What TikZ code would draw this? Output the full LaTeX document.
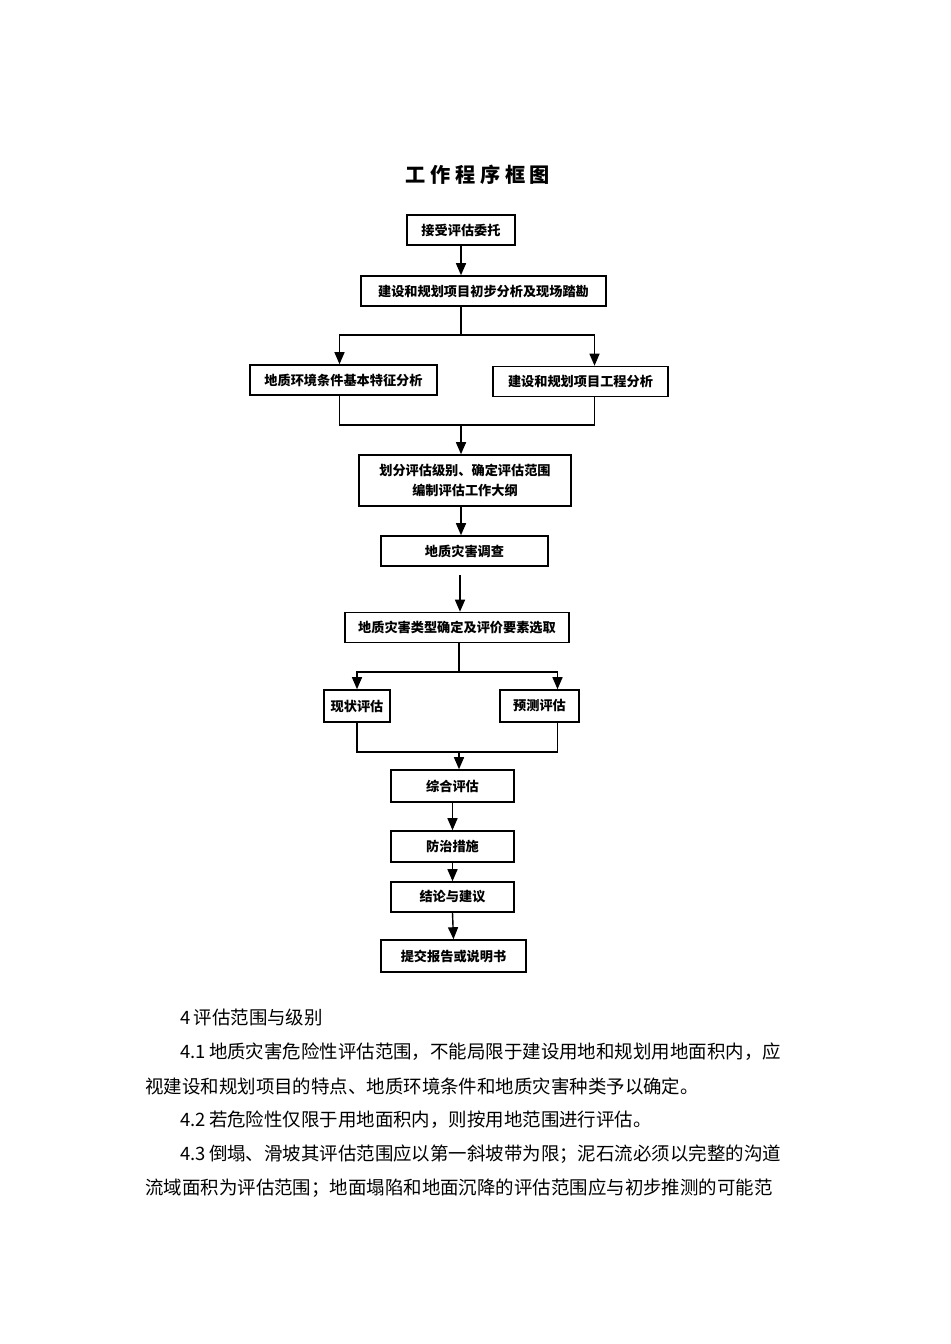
\documentclass[tikz,border=0pt]{standalone}
\usepackage{fontspec}
\setmainfont{Liberation Serif}
\newfontfamily\cjk{Noto Sans CJK SC}
\usetikzlibrary{positioning,calc,arrows.meta}

\begin{document}
\begin{tikzpicture}[
    x=0.02cm, y=-0.02cm,
    box/.style={draw, line width=0.9pt, align=center, inner sep=2pt, minimum height=0.6cm,
      font=\cjk\fontsize{7.5}{11}\selectfont\bfseries},
    arrow/.style={-{Triangle[length=2.4mm,width=2mm]}, line width=0.8pt},
    line/.style={line width=0.8pt},
    para/.style={anchor=west, inner sep=0pt, font=\cjk\fontsize{10.5}{12}\selectfont}
]
\useasboundingbox (0,0) rectangle (950,1344);
\node[font=\cjk\fontsize{11.5}{14}\selectfont\bfseries] (title) at (478,175) {工\ 作\ 程\ 序\ 框\ 图};

\node[box, minimum width=2.16cm] (accept) at (461,230) {接受评估委托};
\node[box, minimum width=4.9cm] (survey) at (483.5,291) {建设和规划项目初步分析及现场踏勘};
\node[box, minimum width=3.74cm] (geoenv) at (343.5,380) {地质环境条件基本特征分析};
\node[box, minimum width=3.5cm] (project) at (580.5,381.5) {建设和规划项目工程分析};
\node[box, minimum width=4.24cm, minimum height=1.02cm] (grade) at (465,480.5) {划分评估级别、确定评估范围\\编制评估工作大纲};
\node[box, minimum width=3.34cm] (hazard) at (464.5,551) {地质灾害调查};
\node[box, minimum width=4.48cm] (types) at (457,627.5) {地质灾害类型确定及评价要素选取};
\node[box, minimum width=1.32cm, minimum height=0.64cm] (current) at (357,706) {现状评估};
\node[box, minimum width=1.58cm, minimum height=0.64cm] (predict) at (539.5,706) {预测评估};
\node[box, minimum width=2.46cm, minimum height=0.64cm] (overall) at (452.5,786) {综合评估};
\node[box, minimum width=2.46cm, minimum height=0.62cm] (measure) at (452.5,846.5) {防治措施};
\node[box, minimum width=2.46cm] (conclude) at (452.5,897) {结论与建议};
\node[box, minimum width=2.9cm, minimum height=0.64cm] (report) at (453.5,956) {提交报告或说明书};

% split and merge points
\coordinate (split1) at (461,335);
\coordinate (merge1) at (461,425);
\coordinate (gap) at (460,575);
\coordinate (split2) at (459,672);
\coordinate (merge2) at (459,752);

\draw[arrow] (accept.south) -- (accept.south |- survey.north);
\draw[line] (survey.south -| split1) -- (split1);
\draw[arrow] (split1) -| ($(geoenv.north)+(-4,0)$);
\draw[arrow] (split1) -| ($(project.north)+(14,0)$);
\draw[line] ($(geoenv.south)+(-4,0)$) |- (merge1) -| ($(project.south)+(14,0)$);
\draw[arrow] (merge1) -- (merge1 |- grade.north);
\draw[arrow] (grade.south -| merge1) -- (merge1 |- hazard.north);
\draw[arrow] (gap) -- (gap |- types.north);
\draw[line] (types.south -| split2) -- (split2);
\draw[arrow] (split2) -| (current.north);
\draw[arrow] (split2) -| ($(predict.north)+(18,0)$);
\draw[line] (current.south) |- (merge2) -| ($(predict.south)+(18,0)$);
\draw[arrow] (merge2) -- (merge2 |- overall.north);
\draw[arrow] (overall.south) -- (measure.north);
\draw[arrow] (measure.south) -- (conclude.north);
\draw[arrow] (conclude.south) -- (report.north);

% text below the chart
\node[para] (sec) at (180,1018) {4\,评估范围与级别};
\node[para] (p1a) at (180,1052) {4.1\,地质灾害危险性评估范围，不能局限于建设用地和规划用地面积内，应};
\node[para] (p1b) at (145,1086) {视建设和规划项目的特点、地质环境条件和地质灾害种类予以确定。};
\node[para] (p2) at (180,1120) {4.2\,若危险性仅限于用地面积内，则按用地范围进行评估。};
\node[para] (p3a) at (180,1154) {4.3\,倒塌、滑坡其评估范围应以第一斜坡带为限；泥石流必须以完整的沟道};
\node[para] (p3b) at (145,1188) {流域面积为评估范围；地面塌陷和地面沉降的评估范围应与初步推测的可能范};
\end{tikzpicture}
\end{document}
